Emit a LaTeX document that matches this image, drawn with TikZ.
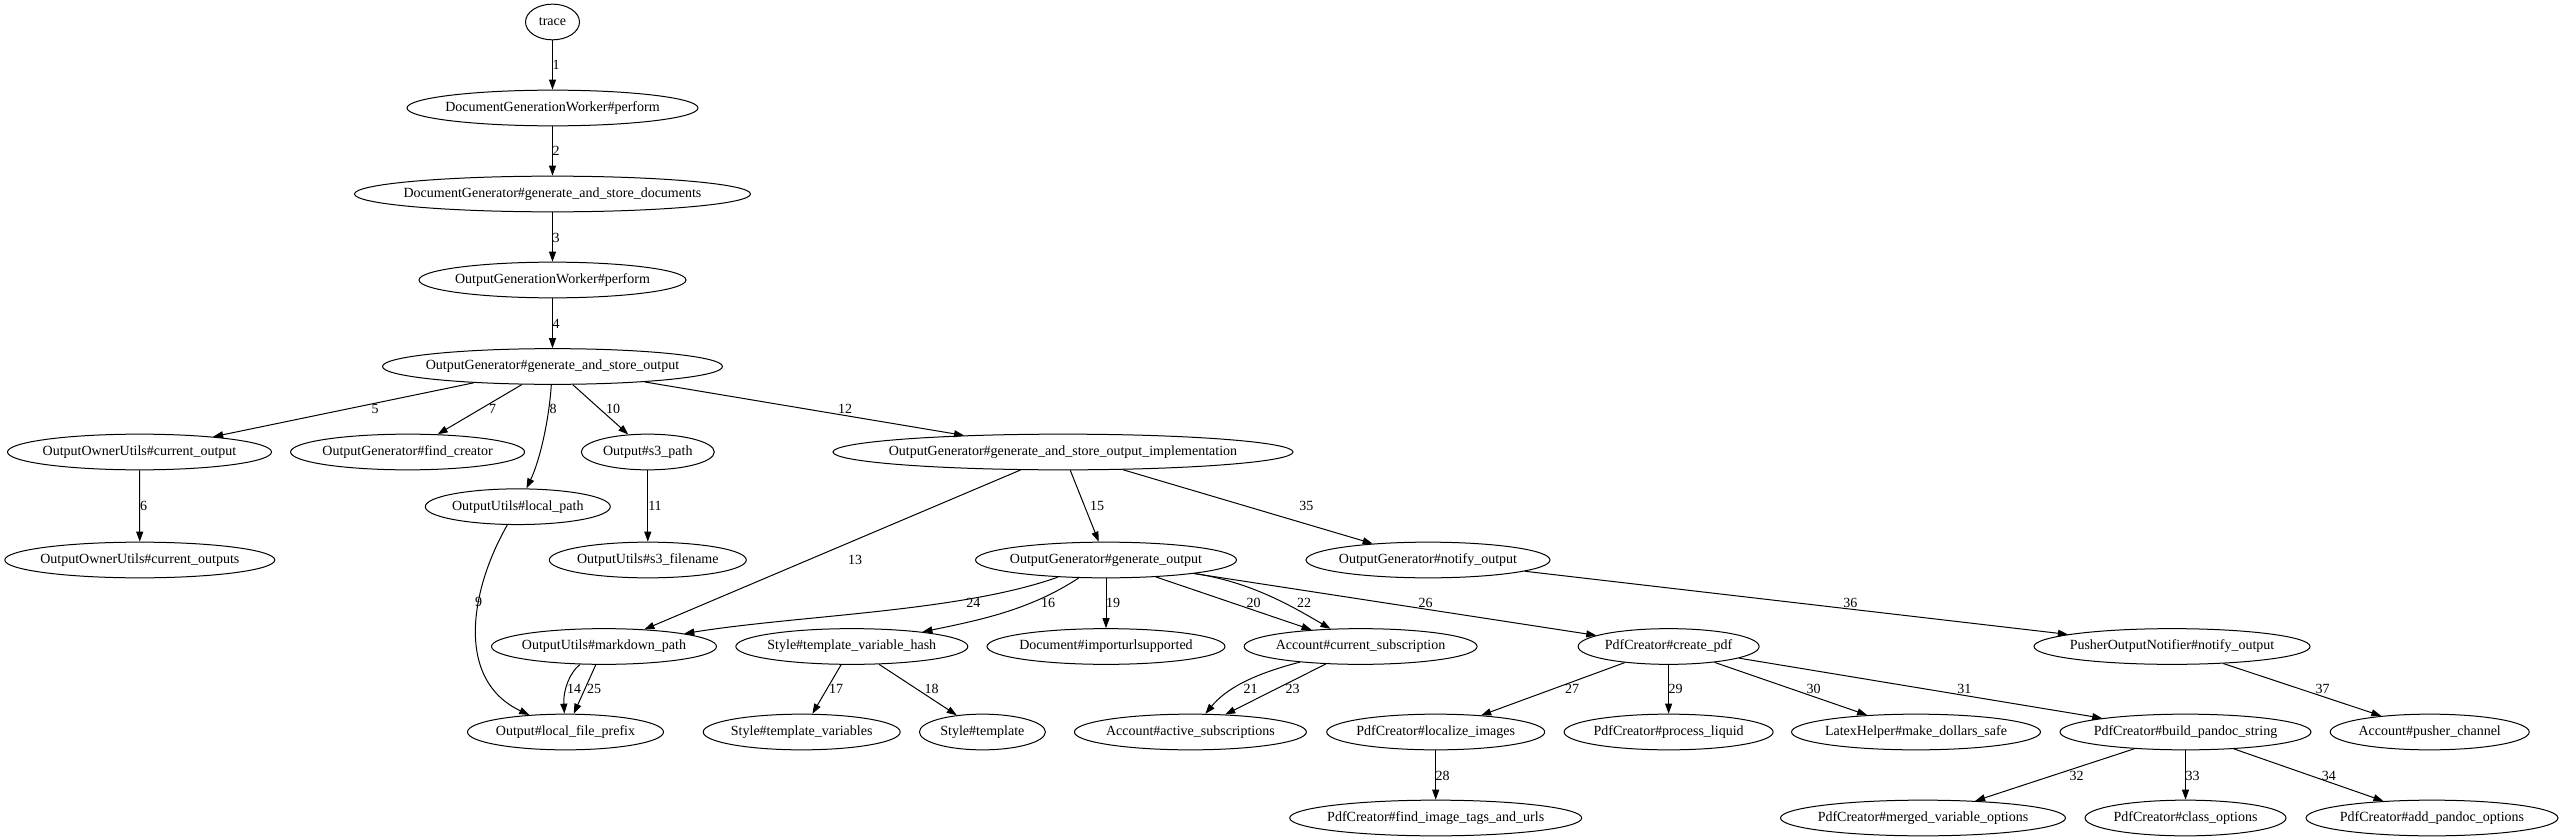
\documentclass[tikz,border=0pt]{standalone}
\usepackage{fontspec}
\setmainfont{Liberation Serif}
\usetikzlibrary{arrows.meta,shapes.geometric}
\newcommand{\fnfont}{\fontsize{14pt}{16pt}\selectfont}

\begin{document}
\begin{tikzpicture}[x=1pt, y=-1pt, >={Triangle[length=10pt,width=7pt]},
  fn/.style={draw, ellipse, line width=1pt, font=\fnfont, minimum height=35.7pt,
    inner ysep=2pt, inner xsep=-25pt},
  lbl/.style={font=\fnfont, inner sep=0pt},
  call/.style={->, line width=1pt}]
  \useasboundingbox (0,0) rectangle (2562,840);
  % functions (name/x/y/width/label)
  \foreach \n/\x/\y/\w/\t in {
    trace/552.5/22/54/trace,
    dgw/552.5/108/291/DocumentGenerationWorker\#perform,
    dg/552.5/194/396/DocumentGenerator\#generate\_and\_store\_documents,
    ogw/552.5/280/267/OutputGenerationWorker\#perform,
    gaso/552.5/366.5/340/OutputGenerator\#generate\_and\_store\_output,
    cur/139.5/452/264/OutputOwnerUtils\#current\_output,
    fc/407.6/452/234/OutputGenerator\#find\_creator,
    s3p/647.8/452/133/Output\#s3\_path,
    impl/1063/452/460/OutputGenerator\#generate\_and\_store\_output\_implementation,
    lp/517.8/506.7/185/OutputUtils\#local\_path,
    curs/139.8/560/270/OutputOwnerUtils\#current\_outputs,
    s3f/647.8/560/197/OutputUtils\#s3\_filename,
    go/1106/560/261/OutputGenerator\#generate\_output,
    notify/1428/560/244/OutputGenerator\#notify\_output,
    md/604/646.5/225/OutputUtils\#markdown\_path,
    tvh/851.8/646.5/232/Style\#template\_variable\_hash,
    imp/1106/646.5/238/Document\#importurlsupported,
    cs/1360.6/646.5/233/Account\#current\_subscription,
    pdf/1668.6/646.5/181/PdfCreator\#create\_pdf,
    pon/2172/646.5/276/PusherOutputNotifier\#notify\_output,
    lfp/565.5/732/196/Output\#local\_file\_prefix,
    tv/801.7/732/197/Style\#template\_variables,
    st/982.4/732/126/Style\#template,
    as/1190.4/732/232/Account\#active\_subscriptions,
    li/1435.7/732/218/PdfCreator\#localize\_images,
    pl/1668.6/732/209/PdfCreator\#process\_liquid,
    mds/1916/732/249/LatexHelper\#make\_dollars\_safe,
    bps/2185.5/732/251/PdfCreator\#build\_pandoc\_string,
    pc/2429.7/732/199/Account\#pusher\_channel,
    fit/1435.7/818/292/PdfCreator\#find\_image\_tags\_and\_urls,
    mvo/1923/818/285/PdfCreator\#merged\_variable\_options,
    co/2185.5/818/201/PdfCreator\#class\_options,
    apo/2432/818/252/PdfCreator\#add\_pandoc\_options}{
    \node[fn, minimum width=\w pt] (\n) at (\x,\y) {\t};
  }
  % straight calls
  \foreach \a/\b/\l/\lx/\ly in {
    trace/dgw/1/556/65, dgw/dg/2/556/151, dg/ogw/3/556/237.5, ogw/gaso/4/556/323.5,
    gaso/cur/5/375/408.5, cur/curs/6/143.5/506, gaso/fc/7/492.5/409,
    gaso/s3p/10/613/409, s3p/s3f/11/655/506, gaso/impl/12/845/409,
    impl/md/13/855/560, impl/go/15/1097/506, tvh/tv/17/836/689,
    tvh/st/18/931.5/689, go/imp/19/1113/603.3, go/cs/20/1253.5/603.3,
    cs/as/23/1292.5/689.3, md/lfp/25/594/689, go/pdf/26/1425.7/603.3,
    pdf/li/27/1572/689.3, li/fit/28/1442.5/775.7, pdf/pl/29/1675.6/689.3,
    pdf/mds/30/1813.5/689.3, pdf/bps/31/1964.4/689.3, bps/mvo/32/2076.5/775.7,
    bps/co/33/2192.5/775.7, bps/apo/34/2328.8/775.7, impl/notify/35/1306.3/506,
    notify/pon/36/1850.3/603, pon/pc/37/2322.7/689.3}{
    \draw[call] (\a) -- (\b) node[lbl] at (\lx,\ly) {\l};
  }
  % curved calls
  \draw[call] (gaso) .. controls (549,420) and (540,460) .. (lp) node[lbl] at (553,409) {8};
  \draw[call] (lp) .. controls (470,590) and (455,680) .. (lfp) node[lbl] at (478.5,602) {9};
  \draw[call] (md) .. controls (570,672) and (563,690) .. (lfp) node[lbl] at (574,689) {14};
  \draw[call] (go) .. controls (1030,610) and (980,620) .. (tvh) node[lbl] at (1048,603.3) {16};
  \draw[call] (cs) .. controls (1250,675) and (1225,690) .. (as) node[lbl] at (1250.5,689.3) {21};
  \draw[call] (go) .. controls (1250,582) and (1290,605) .. (cs) node[lbl] at (1304,603.3) {22};
  \draw[call] (go) .. controls (960,612) and (800,615) .. (md) node[lbl] at (973.4,603.3) {24};
\end{tikzpicture}
\end{document}
